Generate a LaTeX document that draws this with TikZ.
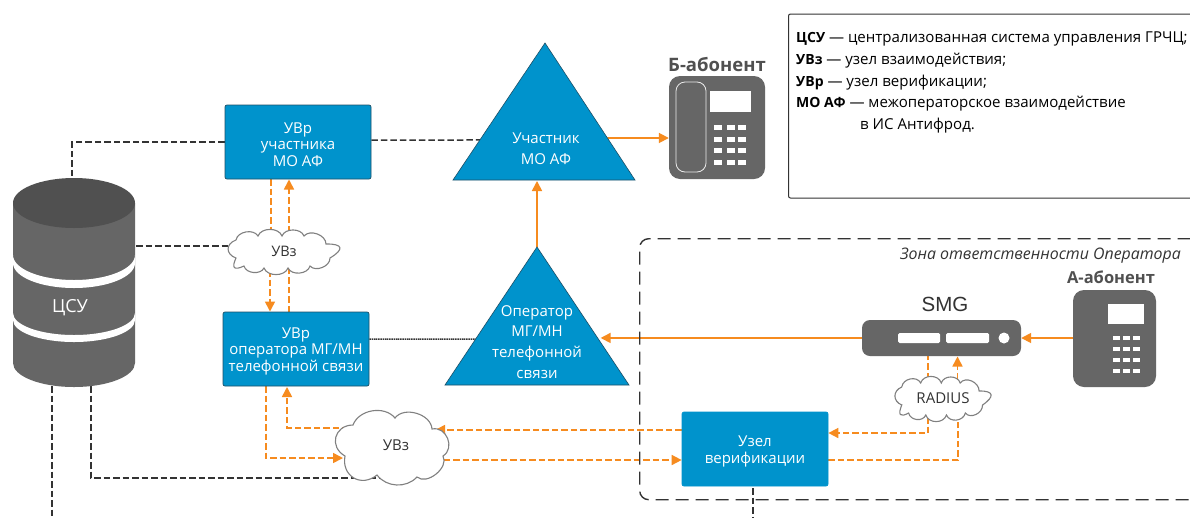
\documentclass[tikz,border=0pt]{standalone}
\usepackage{fontspec}
\setmainfont{Open Sans}
\newfontfamily\arialf{Liberation Sans}
\usetikzlibrary{arrows.meta,calc}
\definecolor{blu}{HTML}{0093CC}
\definecolor{blud}{HTML}{1D4F66}
\definecolor{gry}{HTML}{666666}
\definecolor{gryd}{HTML}{505050}
\definecolor{org}{HTML}{F68B1F}
\definecolor{blk}{HTML}{333333}
\pgfdeclarelayer{paper}
\pgfdeclarelayer{back}
\pgfsetlayers{paper,back,main}
\tikzset{
  x=1pt,y=-1pt,
  bluebox/.style={fill=blu,draw=blud,line width=0.7pt,rounded corners=2pt,minimum width=#1,minimum height=74pt,inner sep=0pt,align=center,text=white,font=\fontsize{15}{16.5}\selectfont},
  tritext/.style={text=white,align=center,inner sep=0pt,font=\fontsize{15}{20.8}\selectfont},
  tri/.style={fill=blu,draw=blud,line width=0.6pt,line join=miter},
  cloudline/.style={draw=gray,fill=white,line width=1.1pt},
  cloudtext/.style={inner sep=0pt,text=blk,font=\fontsize{14.5}{16}\selectfont},
  orgdash/.style={draw=org,line width=1.6pt,dash pattern=on 6.5pt off 3pt},
  orgline/.style={draw=org,line width=1.7pt},
  orgtip/.style={-{Triangle[length=10pt,width=10pt]}},
  blkdash/.style={draw=blk,line width=1.5pt,dash pattern=on 6.5pt off 3pt},
  blkfine/.style={draw=blk,line width=1.5pt,dash pattern=on 1.5pt off 0.7pt},
  phonebody/.style={fill=gry,rounded corners=11pt,inner sep=0pt},
  legendtext/.style={anchor=base west,inner sep=0pt,text=black,font=\fontsize{15.05}{16}\selectfont},
  keyrect/.style={fill=white},
  grytitle/.style={text=gryd,inner sep=0pt,font=\fontsize{16.5}{18}\selectfont\bfseries},
}
\newcommand{\lgb}[1]{{\fontsize{14}{16}\selectfont\bfseries #1}}
\newcommand{\fl}{\rule{0pt}{15.5pt}}
\newcommand{\smallcloud}{(-48,7) to[bend left=70,looseness=1.6] (-48,-11) to[bend left=70] (-26,-15) to[bend left=70] (-2,-15) to[bend left=70] (20,-15) to[bend left=70] (42,-7) to[bend left=75,looseness=3] (46,7) to[bend left=70] (26,15) to[bend left=70] (4,17) to[bend left=70] (-20,17) to[bend left=70] (-40,15) to[bend left=70,looseness=2.5] cycle}
\begin{document}
\begin{tikzpicture}
\useasboundingbox (0,0) rectangle (1190,517);
\clip (0,0) rectangle (1190,517);
\begin{pgfonlayer}{paper}
\fill[white] (0,0) rectangle (1190,517);
\end{pgfonlayer}

% legend
\node[draw=blk,line width=1pt,rounded corners=2pt,minimum width=420pt,minimum height=184pt,anchor=north west,inner sep=0pt] (legend) at (788,13.5) {};
\node[legendtext] (l1) at (796,42) {\lgb{ЦСУ} — централизованная система управления ГРЧЦ;};
\node[legendtext] (l2) at (796,64) {\lgb{УВз} — узел взаимодействия;};
\node[legendtext] (l3) at (796,86) {\lgb{УВр} — узел верификации;};
\node[legendtext] (l4) at (796,107) {\lgb{МО АФ} — межоператорское взаимодействие};
\node[legendtext] (l5) at (860,129) {в ИС Антифрод.};

% operator zone
\node[draw=blk,line width=1.4pt,dash pattern=on 13pt off 7pt,rounded corners=9pt,minimum width=640pt,minimum height=261pt,anchor=north west,inner sep=0pt] (zone) at (639,238) {};
\node[anchor=east,inner sep=0pt,text=blk,font=\fontsize{15.9}{17}\selectfont\itshape] (zonet) at (1181,256) {Зона ответственности Оператора};

% cylinder
\fill[gry] (13,203) -- (13,363) arc[start angle=180,end angle=360,x radius=61pt,y radius=24pt] -- (135,203) -- cycle;
\fill[white] (13,255) arc[start angle=180,end angle=360,x radius=61pt,y radius=25pt] -- (135,263) arc[start angle=0,end angle=-180,x radius=61pt,y radius=25pt] -- cycle;
\fill[white] (13,313) arc[start angle=180,end angle=360,x radius=61pt,y radius=22pt] -- (135,320) arc[start angle=0,end angle=-180,x radius=61pt,y radius=22pt] -- cycle;
\fill[gryd] (74,203) ellipse[x radius=61pt,y radius=25pt];
\node[text=white,inner sep=0pt,font=\fontsize{18}{20}\selectfont] (csu) at (70,308) {ЦСУ};
\coordinate (cyltop) at (72,178);
\coordinate (cylright) at (136,246);
\coordinate (cylb1) at (52,386);
\coordinate (cylb2) at (91,386);

% blue boxes
\node[bluebox=146pt] (uvr1) at (298,142) {\fl УВр\\участника\\МО АФ};
\node[bluebox=146pt] (uvr2) at (296,349) {\fl УВр\\оператора МГ/МН\\телефонной связи};
\node[bluebox=146pt,draw=blu] (ver) at (755,449) {\fl Узел\\верификации};

% triangles
\coordinate (t1a) at (545,43); \coordinate (t1l) at (453,180); \coordinate (t1r) at (635,180);
\draw[tri] (t1a) -- (t1r) -- (t1l) -- cycle;
\coordinate (t2a) at (537,247); \coordinate (t2l) at (445,385); \coordinate (t2r) at (629,385);
\draw[tri] (t2a) -- (t2r) -- (t2l) -- cycle;
\node[tritext] (t1text) at (546,149) {Участник\\МО АФ};
\node[tritext] (t2text) at (537,342) {Оператор\\МГ/МН\\телефонной\\связи};
\coordinate (t1base) at (537,181);

% clouds
\draw[cloudline,shift={(284,251)}] \smallcloud;
\node[cloudtext] (c1) at (284,251) {УВз};
\draw[cloudline] (345,456) to[bend left=75,looseness=1.5] (353,425) to[bend left=60] (395,418) to[bend left=70] (432,429) to[bend left=80,looseness=1.3] (443,456) to[bend left=80] (417,477) to[bend left=50] (377,475) to[bend left=70,looseness=1.4] cycle;
\node[cloudtext,font=\fontsize{15}{17}\selectfont] (c2) at (396,445) {УВз};
\draw[cloudline,shift={(943,398)},xscale=0.86] \smallcloud;
\node[cloudtext,font=\fontsize{15}{16}\selectfont] (c3) at (943,398) {RADIUS};

% SMG
\node[fill=gry,rounded corners=8pt,minimum width=159pt,minimum height=36pt,inner sep=0pt] (smg) at (941.5,338) {};
\fill[white,rounded corners=1.5pt] (898,333) rectangle (940,343);
\fill[white,rounded corners=1.5pt] (946,333) rectangle (989,343);
\fill[white] (1004,338) circle[radius=5.5pt];
\node[text=blk,inner sep=0pt,font=\arialf\fontsize{20.5}{22}\selectfont] (smgt) at (945,304) {SMG};

% A phone
\node[phonebody,minimum width=83pt,minimum height=97pt] (pa) at (1114.5,338.5) {};
\fill[white] (1108,304) rectangle (1143.5,324);
\foreach \kx in {1113,1122.5,1132.6}
  \foreach \ky in {336,347,358,369}
    \fill[keyrect] (\kx,\ky) rectangle ++(7,4);
\node[grytitle] (pat) at (1111,277) {А-абонент};

% B phone
\node[phonebody,minimum width=96pt,minimum height=103pt] (pb) at (717,127.5) {};
\draw[draw=white!85!gray,line width=0.8pt,rounded corners=9pt] (676,82) rectangle (706,172);
\fill[white] (710,91) rectangle (751,112);
\foreach \kx in {714,726.5,738}
  \foreach \ky in {125,137,148,160}
    \fill[keyrect] (\kx,\ky) rectangle ++(8,4.5);
\node[grytitle,font=\fontsize{18.5}{20}\selectfont\bfseries] (pbt) at (717,64) {Б-абонент};

\begin{pgfonlayer}{back}
% black dashed
\draw[blkdash] (uvr1.west |- 0,142) -- (72,142) -- (cyltop);
\draw[blkdash] (cylright) -- (c1.center |- cylright);
\draw[blkdash] (uvr1.east |- 0,140) -- ($(t1a)!0.708!(t1l)$);
\draw[blkfine] (uvr2.east |- 0,339) -- ($(t2a)!0.667!(t2l)$);
\draw[blkdash] (cylb1) -- (52,517);
\draw[blkdash] (cylb2) -- (91,478) -- (c2.center |- 0,478);
\draw[blkdash] (ver.south) ++(-2,2) coordinate (vs) -- (vs |- 0,517);

% orange dashed, UVr1 <-> UVr2 via cloud
\draw[orgdash] (271,179) -- (271,251);
\draw[orgdash,orgtip] (289,251) -- (289,179.5);
\draw[orgdash,orgtip] (270,251) -- (270,311.5);
\draw[orgdash] (289,312) -- (289,251);

% orange dashed, UVr2 <-> cloud 2
\draw[orgdash,orgtip] (266,386) |- (343,458);
\draw[orgdash,orgtip] (c2.center |- 0,428) -| (287,387);

% orange dashed, cloud 2 <-> Uzel
\draw[orgdash,orgtip] (ver.west |- 0,430) -- (435,430);
\draw[orgdash,orgtip] (c2.center |- 0,460) -- (ver.west |- 0,460);

% orange dashed, Uzel <-> RADIUS <-> SMG
\draw[orgdash] (928,398) -- (928,356);
\draw[orgdash,orgtip] (957.5,398) -- (957.5,356.5);
\draw[orgdash,orgtip] (928,398) |- (ver.east |- 0,433);
\draw[orgdash] (ver.east |- 0,460) -| (958,398);

% solid orange
\draw[orgline,orgtip] (smg.west) -- ($(t2a)!0.659!(t2r)+(3,0)$);
\draw[orgline,orgtip] (pa.west |- smg.east) -- (smg.east);
\draw[orgline,orgtip] (t2a) -- (t1base);
\draw[orgline,orgtip] ($(t1a)!0.693!(t1r)$) -- (pb.west |- 0,138);
\end{pgfonlayer}
\end{tikzpicture}
\end{document}
